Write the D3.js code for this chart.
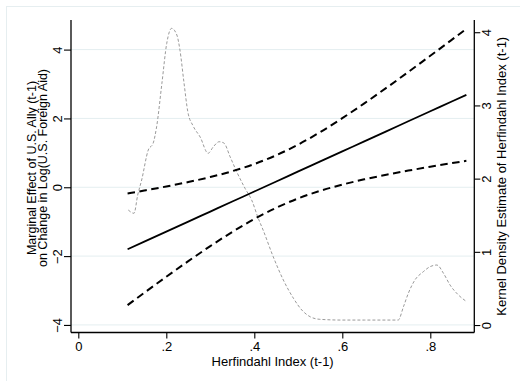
<!DOCTYPE html>
<html>
<head>
<meta charset="utf-8">
<script src="https://cdn.jsdelivr.net/npm/d3@7"></script>
<style>
  html, body { margin: 0; padding: 0; background: #fff; }
  svg text { font-family: "Liberation Sans", Arial, sans-serif; fill: #000; }
</style>
</head>
<body>
<svg id="chart" width="522" height="381"></svg>
<script>
// ---- data ----
const herf = [0.112, 0.15, 0.2, 0.25, 0.3, 0.35, 0.4, 0.45, 0.5, 0.55, 0.6, 0.65, 0.7, 0.75, 0.8, 0.85, 0.882];
const effect = [-1.802, -1.580, -1.289, -0.997, -0.706, -0.415, -0.123, 0.168, 0.460, 0.751, 1.042, 1.334, 1.625, 1.917, 2.208, 2.500, 2.686];
const upper = [-0.180, -0.095, 0.022, 0.152, 0.297, 0.468, 0.675, 0.931, 1.242, 1.604, 2.007, 2.438, 2.887, 3.350, 3.820, 4.297, 4.604];
const lower = [-3.424, -3.065, -2.600, -2.146, -1.709, -1.298, -0.921, -0.595, -0.322, -0.102, 0.077, 0.230, 0.363, 0.484, 0.596, 0.703, 0.768];

const densX = [0.1136, 0.1266, 0.135, 0.144, 0.159, 0.170, 0.178, 0.190, 0.201, 0.212, 0.224, 0.231, 0.240, 0.249, 0.261, 0.277, 0.295, 0.307, 0.320, 0.331, 0.345, 0.360, 0.379, 0.394, 0.409, 0.420, 0.443, 0.466, 0.489, 0.508, 0.527, 0.549, 0.600, 0.650, 0.700, 0.727, 0.739, 0.750, 0.765, 0.784, 0.799, 0.815, 0.830, 0.845, 0.864, 0.883];
const densY = [1.571, 1.526, 1.776, 1.981, 2.391, 2.482, 2.709, 3.302, 3.848, 4.053, 3.962, 3.757, 3.320, 2.910, 2.719, 2.568, 2.346, 2.436, 2.504, 2.486, 2.299, 2.094, 1.867, 1.708, 1.458, 1.298, 0.933, 0.615, 0.365, 0.205, 0.113, 0.078, 0.068, 0.068, 0.068, 0.068, 0.250, 0.433, 0.615, 0.728, 0.796, 0.820, 0.706, 0.546, 0.410, 0.318];

const xTicks = [0, 0.2, 0.4, 0.6, 0.8];
const yLeftTicks = [-4, -2, 0, 2, 4];
const yRightTicks = [0, 1, 2, 3, 4];

const xTitle = "Herfindahl Index (t-1)";
const yLeftTitle = ["Marginal Effect of U.S. Ally (t-1)", "on Change in Log(U.S. Foreign Aid)"];
const yRightTitle = "Kernel Density Estimate of Herfindahl Index (t-1)";

// ---- layout ----
const svg = d3.select("#chart");
const L = 71, R = 474.3, T = 20, B = 332.5;

const x = d3.scaleLinear().domain([-0.0166, 0.9]).range([L, R]);
const yL = d3.scaleLinear().domain([-4.22, 4.86]).range([B, T]);
const yR = d3.scaleLinear().domain([-0.102, 4.167]).range([B, T]);

// outer graph frame (top and left faint lines)
svg.append("line").attr("x1", 6).attr("x2", 520).attr("y1", 6.5).attr("y2", 6.5).attr("stroke", "#e6eef0").attr("stroke-width", 1);
svg.append("line").attr("x1", 6.5).attr("x2", 6.5).attr("y1", 6).attr("y2", 381).attr("stroke", "#e6eef0").attr("stroke-width", 1);

// gridlines
svg.append("g").selectAll("line").data(yLeftTicks).join("line")
  .attr("x1", L).attr("x2", R)
  .attr("y1", d => yL(d)).attr("y2", d => yL(d))
  .attr("stroke", "#e4eef0").attr("stroke-width", 1);

const fmtX = d => d === 0 ? "0" : d3.format(".1f")(d).replace(/^0/, "");

// x axis
const gx = svg.append("g").attr("transform", `translate(0,${B})`)
  .call(d3.axisBottom(x).tickValues(xTicks).tickFormat(fmtX).tickSize(6).tickSizeOuter(0));
gx.select(".domain").attr("stroke", "#000").attr("stroke-width", 1.3).attr("d", `M${L},0H${R}`);
gx.selectAll(".tick line").attr("stroke", "#000").attr("stroke-width", 1.1);
gx.selectAll(".tick text").attr("font-size", 13).attr("y", 9).attr("dy", "0.71em")
  .style("font-family", '"Liberation Sans", Arial, sans-serif');

// left axis
const gl = svg.append("g").attr("transform", `translate(${L},0)`)
  .call(d3.axisLeft(yL).tickValues(yLeftTicks).tickFormat(d3.format("d")).tickSize(7).tickSizeOuter(0));
gl.select(".domain").attr("stroke", "#000").attr("stroke-width", 1.3).attr("d", `M0,${T}V${B}`);
gl.selectAll(".tick line").attr("stroke", "#000").attr("stroke-width", 1.1);
gl.selectAll(".tick text").attr("font-size", 13)
  .attr("transform", "rotate(-90)").attr("x", 0).attr("y", -9).attr("dy", 0)
  .attr("text-anchor", "middle")
  .style("font-family", '"Liberation Sans", Arial, sans-serif');

// right axis
const gr = svg.append("g").attr("transform", `translate(${R},0)`)
  .call(d3.axisRight(yR).tickValues(yRightTicks).tickFormat(d3.format("d")).tickSize(6).tickSizeOuter(0));
gr.select(".domain").attr("stroke", "#000").attr("stroke-width", 1.3).attr("d", `M0,${T}V${B}`);
gr.selectAll(".tick line").attr("stroke", "#000").attr("stroke-width", 1.1);
gr.selectAll(".tick text").attr("font-size", 13)
  .attr("transform", "rotate(-90)").attr("x", 0).attr("y", 17).attr("dy", 0)
  .attr("text-anchor", "middle")
  .style("font-family", '"Liberation Sans", Arial, sans-serif');

// titles
svg.append("text").attr("x", (L + R) / 2).attr("y", 366).attr("text-anchor", "middle")
  .attr("font-size", 13).text(xTitle);

const ylt = svg.append("text").attr("transform", "translate(36,168) rotate(-90)").attr("text-anchor", "middle").attr("font-size", 12.5);
ylt.append("tspan").attr("x", 0).attr("y", 0).text(yLeftTitle[0]);
ylt.append("tspan").attr("x", 0).attr("y", 11).text(yLeftTitle[1]);

svg.append("text").attr("transform", `translate(506,${(T + B) / 2}) rotate(-90)`)
  .attr("text-anchor", "middle").attr("font-size", 13).text(yRightTitle);

// density curve (right axis)
const dens = densX.map((d, i) => [d, densY[i]]);
svg.append("path").datum(dens)
  .attr("d", d3.line().x(d => x(d[0])).y(d => yR(d[1])).curve(d3.curveMonotoneX))
  .attr("fill", "none").attr("stroke", "#9a9a9a").attr("stroke-width", 1)
  .attr("stroke-dasharray", "3,2");

// confidence bounds and marginal effect (left axis)
const mk = arr => herf.map((h, i) => [h, arr[i]]);
const lineL = d3.line().x(d => x(d[0])).y(d => yL(d[1])).curve(d3.curveMonotoneX);

svg.append("path").datum(mk(upper)).attr("d", lineL)
  .attr("fill", "none").attr("stroke", "#000").attr("stroke-width", 2).attr("stroke-dasharray", "7.5,4.5");
svg.append("path").datum(mk(lower)).attr("d", lineL)
  .attr("fill", "none").attr("stroke", "#000").attr("stroke-width", 2).attr("stroke-dasharray", "7.5,4.5");
svg.append("path").datum(mk(effect)).attr("d", lineL)
  .attr("fill", "none").attr("stroke", "#000").attr("stroke-width", 1.8);
</script>
</body>
</html>
